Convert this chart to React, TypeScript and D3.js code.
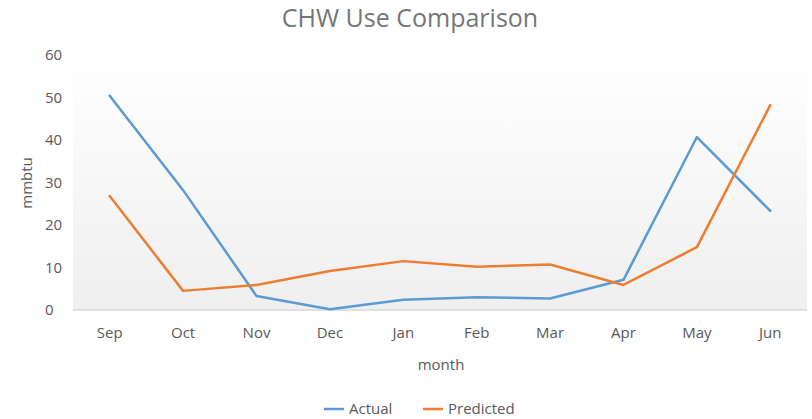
import React from "react";
import * as d3 from "d3";

const months = ["Sep", "Oct", "Nov", "Dec", "Jan", "Feb", "Mar", "Apr", "May", "Jun"];
const actual = [50.4, 28.2, 3.3, 0.2, 2.4, 3.0, 2.7, 7.1, 40.7, 23.3];
const predicted = [26.8, 4.5, 5.9, 9.2, 11.5, 10.2, 10.7, 5.9, 14.8, 48.2];
const yTicks = [0, 10, 20, 30, 40, 50, 60];
const seriesNames = ["Actual", "Predicted"];
const colors = ["#5B9BD5", "#ED7D31"];

const W = 812;
const H = 419;
const FONT = "'Open Sans', sans-serif";

export default function App() {
  const x = d3.scaleBand<string>().domain(months).range([73, 807]);
  const y = d3.scaleLinear().domain([0, 60]).range([310, 55]);
  const line = d3
    .line<number>()
    .x((_, i) => (x(months[i]) as number) + x.bandwidth() / 2)
    .y((d) => y(d));
  const series = [actual, predicted];

  return (
    <svg
      width={W}
      height={H}
      style={{ position: "absolute", left: 0, top: 0, display: "block", background: "#fff" }}
    >
      <defs>
        <linearGradient id="bg" x1="0" y1="0" x2="0" y2="1">
          <stop offset="0" stopColor="#ffffff" />
          <stop offset="1" stopColor="#efefef" />
        </linearGradient>
      </defs>
      <text x={410} y={27} textAnchor="middle" fontFamily={FONT} fontSize={25} fill="#767676">
        CHW Use Comparison
      </text>
      <rect x={73} y={y(60)} width={807 - 73} height={y(0) - y(60)} fill="url(#bg)" />
      <line x1={73} x2={807} y1={y(0)} y2={y(0)} stroke="#d9d9d9" strokeWidth={1.5} />
      {yTicks.map((t) => (
        <text
          key={t}
          x={45}
          y={y(t)}
          dy="0.35em"
          textAnchor="start"
          fontFamily={FONT}
          fontSize={15}
          fill="#595959"
        >
          {t}
        </text>
      ))}
      {months.map((m) => (
        <text
          key={m}
          x={(x(m) as number) + x.bandwidth() / 2}
          y={338}
          textAnchor="middle"
          fontFamily={FONT}
          fontSize={15}
          fill="#595959"
        >
          {m}
        </text>
      ))}
      <text
        transform={`translate(32,183) rotate(-90)`}
        textAnchor="middle"
        fontFamily={FONT}
        fontSize={15}
        fill="#595959"
      >
        mmbtu
      </text>
      <text x={441} y={370} textAnchor="middle" fontFamily={FONT} fontSize={15} fill="#595959">
        month
      </text>
      {series.map((s, i) => (
        <path
          key={i}
          d={line(s) as string}
          fill="none"
          stroke={colors[i]}
          strokeWidth={2.5}
          strokeLinejoin="round"
          strokeLinecap="round"
        />
      ))}
      {seriesNames.map((n, i) => {
        const lx = i === 0 ? 324 : 423;
        return (
          <g key={n}>
            <line x1={lx} x2={lx + 20} y1={409} y2={409} stroke={colors[i]} strokeWidth={2.5} />
            <text x={lx + 25} y={409} dy="0.35em" fontFamily={FONT} fontSize={15} fill="#595959">
              {n}
            </text>
          </g>
        );
      })}
    </svg>
  );
}
